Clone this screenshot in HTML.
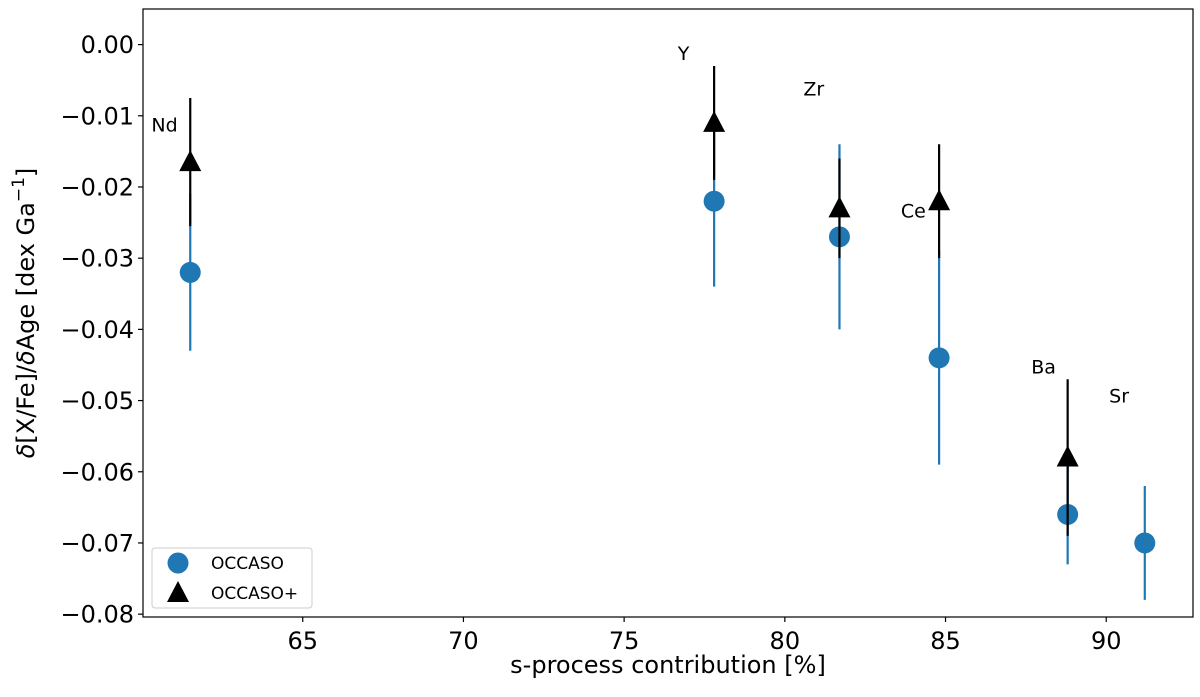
<!DOCTYPE html>
<html><head><meta charset="utf-8"><style>
body{margin:0;background:#fff}
svg text{font-family:"DejaVu Sans","Liberation Sans",sans-serif}
</style></head><body>
<svg id="chart" width="1200" height="692" viewBox="0 0 1200 692" xmlns="http://www.w3.org/2000/svg">
<g id="axes"></g>
<g id="marks"></g>
</svg>
<script>
const elements = ["Nd","Y","Zr","Ce","Ba","Sr"];
const sContribution = [61.5,77.8,81.7,84.8,88.8,91.2];
const occasoVal = [-0.032,-0.022,-0.027,-0.044,-0.066,-0.070];
const occasoErr = [0.011,0.012,0.013,0.015,0.007,0.008];
const plusElements = ["Nd","Y","Zr","Ce","Ba"];
const plusX = [61.5,77.8,81.7,84.8,88.8];
const plusVal = [-0.0165,-0.011,-0.023,-0.022,-0.058];
const plusErr = [0.009,0.008,0.007,0.008,0.011];
const labelX = [60.7,76.85,80.9,84.0,88.05,90.4];
const labelY = [-0.0112,-0.0012,-0.0062,-0.0233,-0.0452,-0.0493];
const xTicks = [65,70,75,80,85,90];
const yTicks = [0,-0.01,-0.02,-0.03,-0.04,-0.05,-0.06,-0.07,-0.08];
const yTickLabels = ["0.00","\u22120.01","\u22120.02","\u22120.03","\u22120.04","\u22120.05","\u22120.06","\u22120.07","\u22120.08"];

const L=143,R=1193,T=9,B=617;
const xMin=60.03,xMax=92.7,yMin=-0.0804,yMax=0.005;
const X=v=>L+(v-xMin)/(xMax-xMin)*(R-L);
const Y=v=>B-(v-yMin)/(yMax-yMin)*(B-T);
const NS="http://www.w3.org/2000/svg";
function mk(tag,attrs,parent,txt){const e=document.createElementNS(NS,tag);for(const k in attrs)e.setAttribute(k,attrs[k]);if(txt!==undefined)e.textContent=txt;parent.appendChild(e);return e;}
const ax=document.getElementById('axes'),mg=document.getElementById('marks');

let e=mk('rect',{x:L,y:T,width:R-L,height:B-T,fill:'none',stroke:'#000','stroke-width':1.2},ax);


xTicks.forEach((t,i)=>{
  let l=mk('line',{x1:X(t),x2:X(t),y1:B,y2:B+5,stroke:'#000','stroke-width':1.2},ax);
  
  
  let tx=mk('text',{x:X(t),y:B+32,'text-anchor':'middle','font-size':24},ax,String(t));
  
  
});
yTicks.forEach((t,i)=>{
  let l=mk('line',{x1:L-5,x2:L,y1:Y(t),y2:Y(t),stroke:'#000','stroke-width':1.2},ax);
  
  
  let tx=mk('text',{x:L-9,y:Y(t)+8.5,'text-anchor':'end','font-size':24},ax,yTickLabels[i]);
  
  
});
e=mk('text',{x:(L+R)/2,y:673,'text-anchor':'middle','font-size':24},ax,'s-process contribution [%]');


e=mk('text',{x:0,y:0,'text-anchor':'middle','font-size':24,transform:'translate(34,313) rotate(-90)'},ax);


e.innerHTML='<tspan font-style="italic">δ</tspan>[X/Fe]/<tspan font-style="italic">δ</tspan>Age [dex Ga<tspan baseline-shift="super" font-size="17">−1</tspan>]';

const blue='#1f77b4';
sContribution.forEach((x,i)=>{
  let l=mk('line',{x1:X(x),x2:X(x),y1:Y(occasoVal[i]+occasoErr[i]),y2:Y(occasoVal[i]-occasoErr[i]),stroke:blue,'stroke-width':2.2},mg);
  
  
  let c=mk('circle',{cx:X(x),cy:Y(occasoVal[i]),r:10.5,fill:blue},mg);
  
  
});
plusX.forEach((x,i)=>{
  let l=mk('line',{x1:X(x),x2:X(x),y1:Y(plusVal[i]+plusErr[i]),y2:Y(plusVal[i]-plusErr[i]),stroke:'#000','stroke-width':2.2},mg);
  
  
  const cx=X(x),cy=Y(plusVal[i]);
  let p=mk('polygon',{points:`${cx},${cy-12} ${cx-11},${cy+9} ${cx+11},${cy+9}`,fill:'#000'},mg);
  
  
});
elements.forEach((n,i)=>{
  let t=mk('text',{x:X(labelX[i]),y:Y(labelY[i])+7,'text-anchor':'middle','font-size':19},mg,n);
  
  
});

const lg=mk('g',{},ax);


e=mk('rect',{x:152,y:548,width:160,height:60,rx:3,fill:'#fff',stroke:'#ccc','stroke-width':1},lg);


e=mk('circle',{cx:178,cy:563,r:10.5,fill:blue},lg);


e=mk('text',{x:211,y:569,'font-size':17},lg,'OCCASO');


e=mk('polygon',{points:'178,581 167,602 189,602',fill:'#000'},lg);


e=mk('text',{x:211,y:599,'font-size':17},lg,'OCCASO+');


</script>
</body></html>
